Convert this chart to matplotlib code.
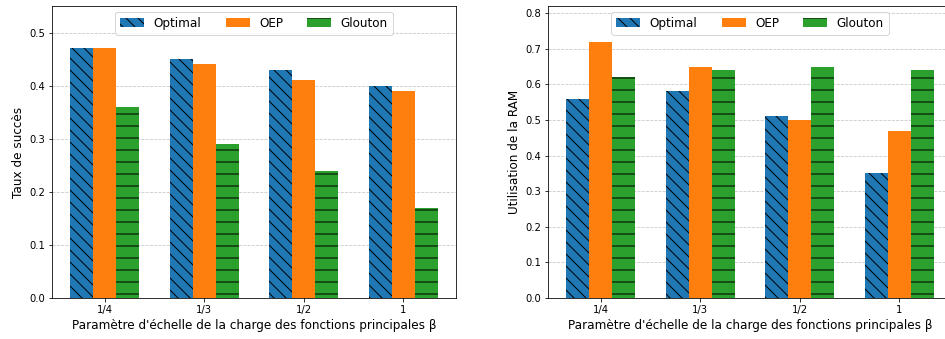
import numpy as np
import matplotlib
matplotlib.use('Agg')
import matplotlib.pyplot as plt

beta_labels = ['1/4', '1/3', '1/2', '1']
methods = ['Optimal', 'OEP', 'Glouton']

succes_optimal = [0.47, 0.45, 0.43, 0.40]
succes_oep = [0.47, 0.44, 0.41, 0.39]
succes_glouton = [0.36, 0.29, 0.24, 0.17]

ram_optimal = [0.56, 0.58, 0.51, 0.35]
ram_oep = [0.72, 0.65, 0.50, 0.47]
ram_glouton = [0.62, 0.64, 0.65, 0.64]

colors = ['#1f77b4', '#ff7f0e', '#2ca02c']
hatches = ['\\\\', '', '-']
width = 0.23

plt.rcParams['hatch.linewidth'] = 1.0

fig = plt.figure(figsize=(945 / 72, 339 / 72), dpi=72)
ax1 = fig.add_axes([52 / 945, 41 / 339, 404 / 945, 292 / 339])
ax2 = fig.add_axes([548 / 945, 41 / 339, 404 / 945, 292 / 339])


def draw(ax, series, ylabel, ymax):
    x = np.arange(len(beta_labels))
    for i, (vals, name) in enumerate(zip(series, methods)):
        ax.bar(x + (i - 1) * width, vals, width, color=colors[i],
               hatch=hatches[i], label=name)
    ax.set_xticks(x)
    ax.set_xticklabels(beta_labels)
    ax.set_ylim(0, ymax)
    ax.set_axisbelow(True)
    ax.grid(axis='y', linestyle='--', alpha=0.7)
    ax.set_ylabel(ylabel, fontsize=12)
    ax.set_xlabel("Paramètre d'échelle de la charge des fonctions principales β", fontsize=12)
    ax.legend(loc='upper center', ncol=3, fontsize=12, columnspacing=2.0)


draw(ax1, [succes_optimal, succes_oep, succes_glouton], 'Taux de succès', 0.55)
draw(ax2, [ram_optimal, ram_oep, ram_glouton], 'Utilisation de la RAM', 0.82)

fig.savefig('out.png', dpi=72)
